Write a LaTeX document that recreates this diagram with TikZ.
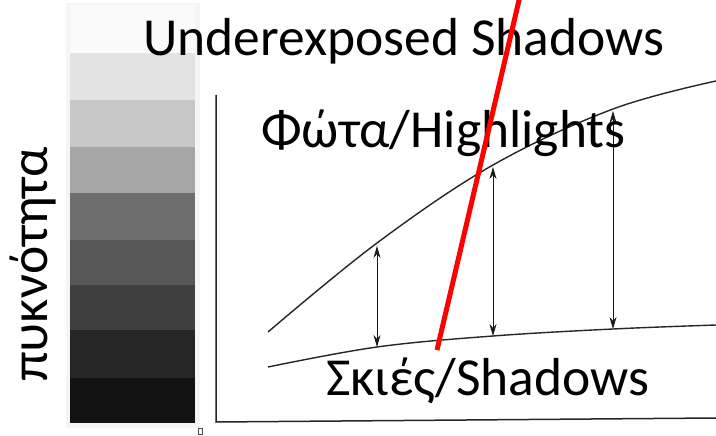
\documentclass[tikz,border=0pt]{standalone}
\usepackage{fontspec}
\setmainfont{Carlito}
\usetikzlibrary{arrows.meta}
\begin{document}
\begin{tikzpicture}[x=1pt,y=-1pt,
  lbl/.style={inner sep=0pt, anchor=base west, font=\fontsize{53.5}{62}\selectfont},
  curve/.style={line width=1.4pt, black!85},
  axisline/.style={line width=1.5pt, black!85},
  dimarrow/.style={line width=0.9pt, black!90, {Stealth[length=12pt,width=7pt]}-{Stealth[length=12pt,width=7pt]}},
  redmark/.style={line width=5pt, red},
  ]
\useasboundingbox (0,0) rectangle (716,436);
\clip (0,0) rectangle (716,436);
\fill[white] (0,0) rectangle (716,436);
% step wedge
\fill[black!4] (66,3) rectangle (200,428);
\fill[black!2] (70,5) rectangle (195,53);
\fill[black!11] (70,53) rectangle (195,100);
\fill[black!22] (70,100) rectangle (195,147);
\fill[black!35] (70,147) rectangle (195,193);
\fill[black!57] (70,193) rectangle (195,240);
\fill[black!66] (70,240) rectangle (195,285);
\fill[black!75] (70,285) rectangle (195,330);
\fill[black!85] (70,330) rectangle (195,378);
\fill[black!93] (70,378) rectangle (195,423);
\draw[line width=0.6pt, black!70] (198.5,428.5) rectangle (202.5,434.5);
% axes
\coordinate (ytop) at (216,95);
\coordinate (origin) at (216,422);
\coordinate (xend) at (716,418);
\draw[axisline] (ytop) -- (origin) -- (xend);
% curves
\draw[curve] plot[smooth, tension=0.6] coordinates {(268,332) (377,243) (493,165) (613,109) (716,81)};
\draw[curve] plot[smooth, tension=0.6] coordinates {(268,367) (377,347) (493,336) (613,329) (716,325)};
% arrows
\coordinate (a1t) at (377,246); \coordinate (a1b) at (377,347);
\coordinate (a2t) at (493,167); \coordinate (a2b) at (493,336);
\coordinate (a3t) at (613,111); \coordinate (a3b) at (613,329);
\draw[dimarrow] (a1t) -- (a1b);
\draw[dimarrow] (a2t) -- (a2b);
\draw[dimarrow] (a3t) -- (a3b);
% labels
\node[lbl] (under) at (143,56) {Underexposed Shadows};
\node[lbl] (high) at (261,147) {Φώτα/Highlights};
\node[lbl] (shad) at (326,395) {Σκιές/Shadows};
\node[lbl, rotate=90] (dens) at (47,382) {πυκνότητα};
% red line
\coordinate (rb) at (437,350);
\coordinate (rt) at (521.4,-10);
\draw[redmark] (rb) -- (rt);
\end{tikzpicture}
\end{document}
